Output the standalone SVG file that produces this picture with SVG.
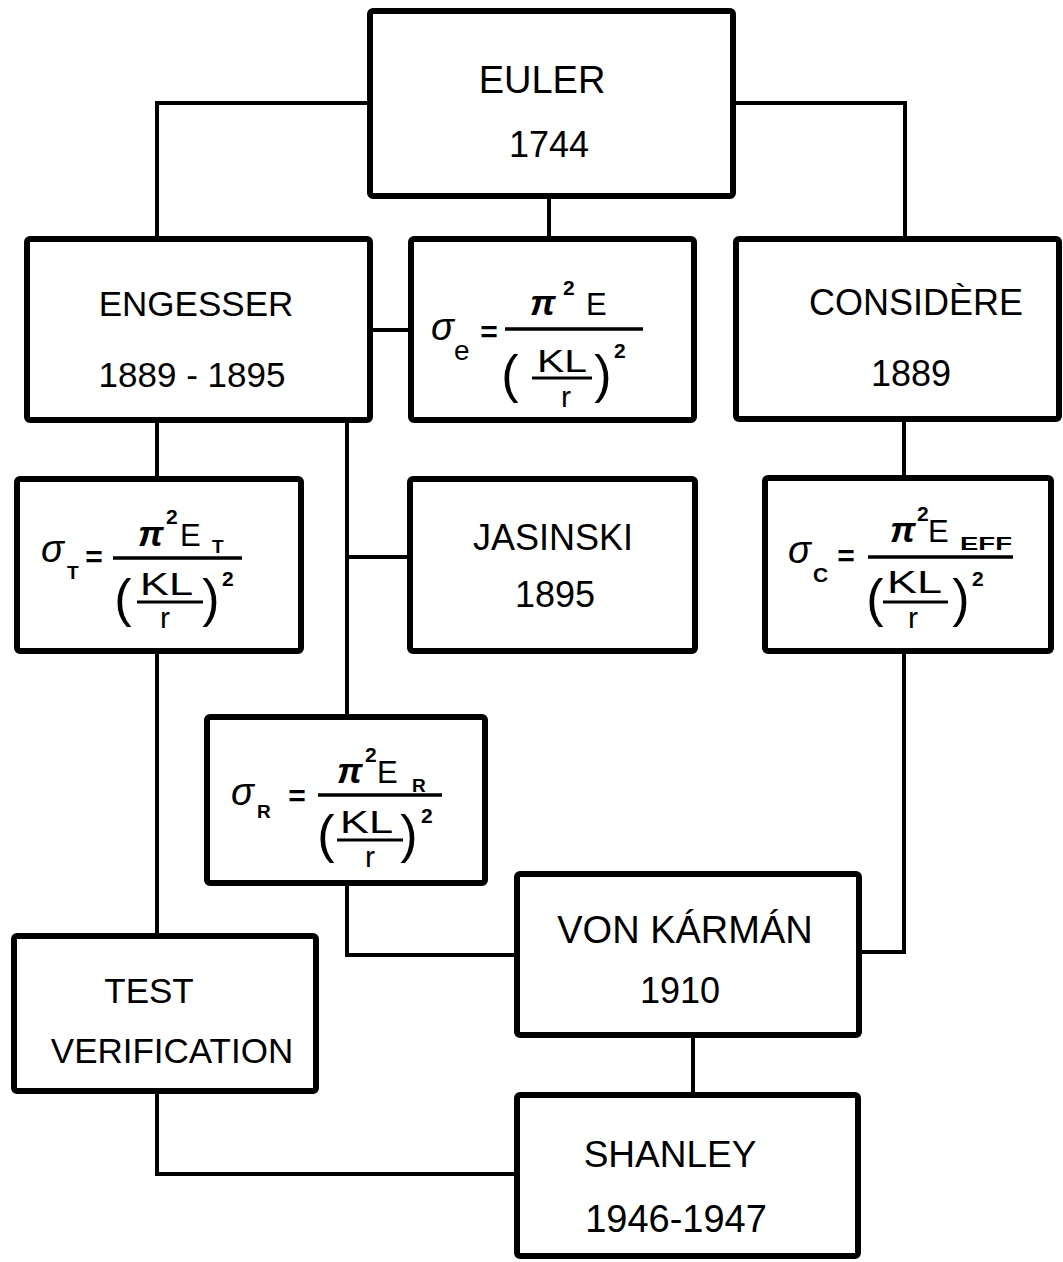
<svg xmlns="http://www.w3.org/2000/svg" width="1063" height="1262" viewBox="0 0 1063 1262">
<style>
.bg{fill:#fff}
.box{fill:#fff;stroke:#000;stroke-width:6}
.conn path{fill:none;stroke:#000;stroke-width:4}
text{font-family:"Liberation Sans","Arial",sans-serif;fill:#000}
.t{font-size:36px;text-anchor:middle}
.sig{font-size:38px;font-style:italic}
.sub{font-size:19px;font-weight:bold}
.sup{font-size:21px;font-weight:bold}
.eq{font-size:30px;font-weight:bold;text-anchor:middle}
.pi{font-size:36px;font-weight:bold;font-style:italic}
.E{font-size:31px}
.kl{font-size:32px}
.r{font-size:30px;text-anchor:middle}
.par{font-size:52px;text-anchor:middle}
.fl{stroke:#000;stroke-width:3.5}
.fs{stroke:#000;stroke-width:3}
</style>
<rect class="bg" x="0" y="0" width="1063" height="1262"/>
<g id="connectors" class="conn">
<path d="M370,103 H157 V239"/>
<path d="M733,103 H905 V239"/>
<path d="M549,196 V239"/>
<path d="M370,330 H411"/>
<path d="M157,420 V479"/>
<path d="M347,420 V717"/>
<path d="M347,557 H410"/>
<path d="M904,419 V478"/>
<path d="M157,651 V936"/>
<path d="M347,883 V955 H517"/>
<path d="M904,651 V952 H859"/>
<path d="M693,1035 V1095"/>
<path d="M157,1091 V1174 H517"/>
</g>
<g id="euler">
<rect class="box" x="370" y="11" width="363" height="185" rx="3"/>
<text class="t" x="542" y="93" style="font-size:38px">EULER</text>
<text class="t" x="549" y="157">1744</text>
</g>
<g id="engesser">
<rect class="box" x="27" y="239" width="343" height="181" rx="3"/>
<text class="t" x="196" y="316" style="font-size:35px">ENGESSER</text>
<text class="t" x="192" y="387" style="font-size:35px">1889 - 1895</text>
</g>
<g id="euler-formula">
<rect class="box" x="411" y="239" width="283" height="181" rx="3"/>
<text class="sig" x="431" y="340">σ</text>
<text x="454" y="360" style="font-size:28px">e</text>
<text class="eq" x="489" y="342">=</text>
<line class="fl" x1="505" y1="329" x2="643" y2="329"/>
<text class="pi" x="530" y="315">π</text>
<text class="sup" x="563" y="295">2</text>
<text class="E" x="586" y="315">E</text>
<text class="par" x="510" y="392">(</text>
<text class="kl" x="537" y="372" textLength="50" lengthAdjust="spacingAndGlyphs">KL</text>
<line class="fs" x1="532" y1="378" x2="592" y2="378"/>
<text class="r" x="566" y="407">r</text>
<text class="par" x="603" y="392">)</text>
<text class="sup" x="614" y="358">2</text>
</g>
<g id="considere">
<rect class="box" x="736" y="239" width="323" height="180" rx="3"/>
<text class="t" x="916" y="315">CONSIDÈRE</text>
<text class="t" x="911" y="386">1889</text>
</g>
<g id="tangent-formula">
<rect class="box" x="17" y="479" width="284" height="172" rx="3"/>
<text class="sig" x="41" y="562">σ</text>
<text class="sub" x="67" y="579">T</text>
<text class="eq" x="94" y="567">=</text>
<line class="fl" x1="113" y1="558" x2="242" y2="558"/>
<text class="pi" x="138" y="546">π</text>
<text class="sup" x="166" y="524">2</text>
<text class="E" x="180" y="546">E</text>
<text class="sub" x="212" y="553">T</text>
<text class="par" x="123" y="616">(</text>
<text class="kl" x="140" y="595" textLength="53" lengthAdjust="spacingAndGlyphs">KL</text>
<line class="fs" x1="137" y1="602" x2="203" y2="602"/>
<text class="r" x="165" y="628">r</text>
<text class="par" x="211" y="616">)</text>
<text class="sup" x="222" y="586">2</text>
</g>
<g id="jasinski">
<rect class="box" x="410" y="479" width="285" height="172" rx="3"/>
<text class="t" x="553" y="550">JASINSKI</text>
<text class="t" x="555" y="607">1895</text>
</g>
<g id="considere-formula">
<rect class="box" x="765" y="478" width="286" height="173" rx="3"/>
<text class="sig" x="788" y="563">σ</text>
<text class="sub" x="813" y="582" style="font-size:21px">C</text>
<text class="eq" x="846" y="566">=</text>
<line class="fl" x1="868" y1="557" x2="1013" y2="557"/>
<text class="pi" x="890" y="542">π</text>
<text class="sup" x="917" y="521">2</text>
<text class="E" x="928" y="542">E</text>
<text class="sub" x="960" y="550" textLength="52" lengthAdjust="spacingAndGlyphs">EFF</text>
<text class="par" x="875" y="616">(</text>
<text class="kl" x="887" y="593" textLength="55" lengthAdjust="spacingAndGlyphs">KL</text>
<line class="fs" x1="883" y1="602" x2="948" y2="602"/>
<text class="r" x="913" y="628">r</text>
<text class="par" x="961" y="616">)</text>
<text class="sup" x="972" y="586">2</text>
</g>
<g id="reduced-formula">
<rect class="box" x="207" y="717" width="278" height="166" rx="3"/>
<text class="sig" x="231" y="805">σ</text>
<text class="sub" x="257" y="818">R</text>
<text class="eq" x="297" y="806">=</text>
<line class="fl" x1="318" y1="795" x2="442" y2="795"/>
<text class="pi" x="337" y="783">π</text>
<text class="sup" x="365" y="762">2</text>
<text class="E" x="377" y="783">E</text>
<text class="sub" x="412" y="792">R</text>
<text class="par" x="326" y="852">(</text>
<text class="kl" x="340" y="833" textLength="53" lengthAdjust="spacingAndGlyphs">KL</text>
<line class="fs" x1="337" y1="840" x2="403" y2="840"/>
<text class="r" x="370" y="867">r</text>
<text class="par" x="409" y="852">)</text>
<text class="sup" x="421" y="823">2</text>
</g>
<g id="test-verification">
<rect class="box" x="14" y="936" width="302" height="155" rx="3"/>
<text class="t" x="149" y="1003" style="font-size:35px">TEST</text>
<text class="t" x="172" y="1063" style="font-size:35px">VERIFICATION</text>
</g>
<g id="von-karman">
<rect class="box" x="517" y="874" width="342" height="161" rx="3"/>
<text class="t" x="685" y="943" style="font-size:38px">VON KÁRMÁN</text>
<text class="t" x="680" y="1003">1910</text>
</g>
<g id="shanley">
<rect class="box" x="517" y="1095" width="341" height="161" rx="3"/>
<text class="t" x="670" y="1167" style="font-size:37px">SHANLEY</text>
<text class="t" x="676" y="1232" style="font-size:38px">1946-1947</text>
</g>
</svg>
